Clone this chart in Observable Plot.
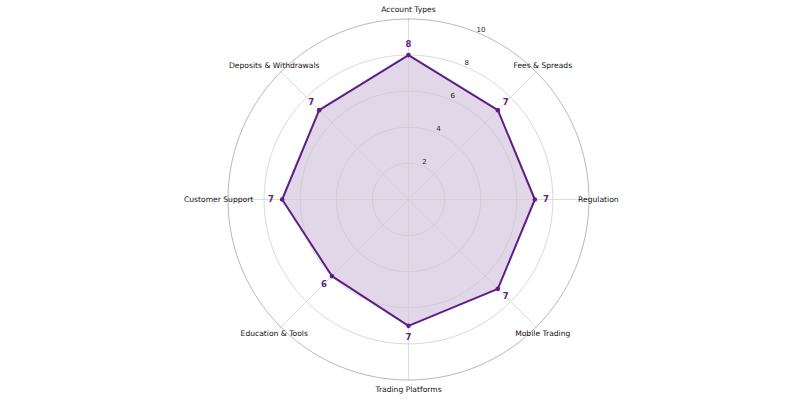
<!DOCTYPE html>
<html>
<head>
<meta charset="utf-8">
<script src="https://cdn.jsdelivr.net/npm/d3@7"></script>
<script src="https://cdn.jsdelivr.net/npm/@observablehq/plot@0.6"></script>
<style>
  html, body { margin: 0; padding: 0; background: #fff; }
  svg { display: block; }
</style>
</head>
<body>
<div id="chart"></div>
<script>
const categories = ["Account Types", "Fees & Spreads", "Regulation", "Mobile Trading",
  "Trading Platforms", "Education & Tools", "Customer Support", "Deposits & Withdrawals"];
const scores = [8, 7, 7, 7, 7, 6, 7, 7];
const ringTicks = [2, 4, 6, 8, 10];
const rMax = 10;

const W = 800, H = 400;
const unit = 18.05;          // px per score unit
const cx = 408, cy = 199;    // centre in px
const xDomain = [-cx / unit, (W - cx) / unit];
const yDomain = [-(H - cy) / unit, cy / unit];

const n = categories.length;
const ang = i => (i / n) * 2 * Math.PI;           // clockwise from top
const px = (r, a) => r * Math.sin(a);
const py = (r, a) => r * Math.cos(a);

const pts = scores.map((v, i) => ({cat: categories[i], v, x: px(v, ang(i)), y: py(v, ang(i))}));
const closed = [...pts, pts[0]];

const circle = r => d3.range(0, 361, 2).map(d => {
  const a = d * Math.PI / 180;
  return {r, x: px(r, a), y: py(r, a)};
});
const rings = ringTicks.filter(t => t < rMax).flatMap(circle);
const outer = circle(rMax);

const spokes = categories.flatMap((c, i) => [
  {cat: c, x: 0, y: 0}, {cat: c, x: px(rMax, ang(i)), y: py(rMax, ang(i))}
]);
const catLabels = categories.map((c, i) => ({cat: c, x: px(10.52, ang(i)), y: py(10.52, ang(i))}));
const tickAng = Math.PI / n;
const tickLabels = ringTicks.map(t => ({t, x: px(t + 0.25, tickAng + 0.01), y: py(t + 0.25, tickAng + 0.01)}));
const valLabels = pts.map((p, i) => ({v: p.v, x: px(p.v + 0.62, ang(i)), y: py(p.v + 0.62, ang(i))}));

const col = "#5c1f86";
const font = "DejaVu Sans, sans-serif";

const chart = Plot.plot({
  width: W, height: H,
  margin: 0,
  x: {domain: xDomain, axis: null},
  y: {domain: yDomain, axis: null},
  style: {fontFamily: font, background: "#fff"},
  marks: [
    Plot.line(closed, {x: "x", y: "y", fill: col, fillOpacity: 0.18, stroke: "none"}),
    Plot.line(rings, {x: "x", y: "y", z: "r", stroke: "#c8c8c8", strokeWidth: 0.7}),
    Plot.line(spokes, {x: "x", y: "y", z: "cat", stroke: "#cfcfcf", strokeWidth: 0.7}),
    Plot.line(outer, {x: "x", y: "y", stroke: "#b0b0b0", strokeWidth: 0.9}),
    Plot.line(closed, {x: "x", y: "y", stroke: col, strokeWidth: 2}),
    Plot.dot(pts, {x: "x", y: "y", r: 2.3, fill: col}),
    Plot.text(tickLabels, {x: "x", y: "y", text: "t", fontSize: 7, fill: "#222"}),
    Plot.text(catLabels, {x: "x", y: "y", text: "cat", fontSize: 7.6, fill: "#111"}),
    Plot.text(valLabels, {x: "x", y: "y", text: "v", fontSize: 8.5, fontWeight: "bold", fill: col})
  ]
});
document.getElementById("chart").append(chart);
</script>
</body>
</html>
